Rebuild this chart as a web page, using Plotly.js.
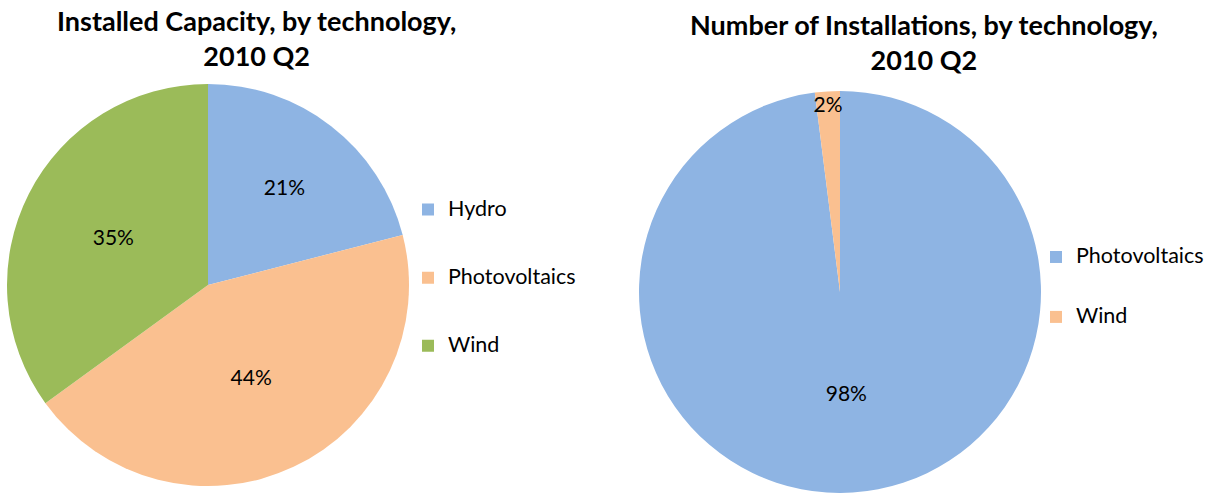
<!DOCTYPE html>
<html>
<head>
<meta charset="utf-8">
<script src="https://cdn.plot.ly/plotly-3.0.1.min.js"></script>
<style>html,body{margin:0;padding:0;background:#fff;}#chart{width:1211px;height:493px;}</style>
</head>
<body>
<div id="chart"></div>
<script>
// Data
const capacityLabels = ["Hydro", "Photovoltaics", "Wind"];
const capacityValues = [21, 44, 35];
const capacityColors = ["#8EB4E3", "#FAC090", "#9BBB59"];

const installLabels = ["Photovoltaics", "Wind"];
const installValues = [98, 2];
const installColors = ["#8EB4E3", "#FAC090"];

const leftTitle = "Installed Capacity, by technology,<br>2010 Q2";
const rightTitle = "Number of Installations, by technology,<br>2010 Q2";

const FONT = "Lato, 'Open Sans', sans-serif";
const W = 1211, H = 493;

// pad legend labels (blank lines) so items are spaced like the original;
// the tag keeps the two pies' legend entries separate
const pad = tag => l => "<br><span style=\"font-size:21.5px\">" + l + "</span><br>" + tag;

const traces = [
  {
    type: "pie",
    labels: capacityLabels.map(pad(" ")),
    values: capacityValues,
    marker: {colors: capacityColors, line: {width: 0}},
    sort: false,
    direction: "clockwise",
    rotation: 0,
    texttemplate: "%{percent:.0%}",
    textposition: "inside",
    insidetextorientation: "horizontal",
    textfont: {family: FONT, size: 21, color: "#000"},
    hoverinfo: "skip",
    domain: {x: [7 / W, 409 / W], y: [1 - 486 / H, 1 - 84 / H]},
    legend: "legend"
  },
  {
    type: "pie",
    labels: installLabels.map(pad("  ")),
    values: installValues,
    marker: {colors: installColors, line: {width: 0}},
    sort: false,
    direction: "clockwise",
    rotation: 0,
    texttemplate: "%{percent:.0%}",
    textposition: "inside",
    insidetextorientation: "horizontal",
    textfont: {family: FONT, size: 21, color: "#000"},
    hoverinfo: "skip",
    domain: {x: [639 / W, 1041 / W], y: [0, 1 - 91 / H]},
    legend: "legend2"
  }
];

const legendBase = {
  bgcolor: "rgba(0,0,0,0)",
  xanchor: "left",
  yanchor: "middle",
  itemwidth: 30,
  valign: "middle"
};

const layout = {
  width: W,
  height: H,
  margin: {l: 0, r: 0, t: 0, b: 0, autoexpand: false},
  paper_bgcolor: "#fff",
  showlegend: true,
  font: {family: FONT},
  uniformtext: {minsize: 21, mode: "show"},
  legend: Object.assign({}, legendBase, {x: 408 / W, y: 1 - 278 / H,
    font: {family: FONT, size: 16.7, color: "#000"}}),
  legend2: Object.assign({}, legendBase, {x: 1036 / W, y: 1 - 287 / H,
    font: {family: FONT, size: 14.6, color: "#000"}}),
  annotations: [
    {text: "<b>" + leftTitle + "</b>", x: 256 / W, y: 1 - 38 / H, xref: "paper", yref: "paper",
     showarrow: false, font: {family: FONT, size: 27, color: "#000"}, xanchor: "center", yanchor: "middle"},
    {text: "<b>" + rightTitle + "</b>", x: 924 / W, y: 1 - 42 / H, xref: "paper", yref: "paper",
     showarrow: false, font: {family: FONT, size: 27, color: "#000"}, xanchor: "center", yanchor: "middle"}
  ]
};

Plotly.newPlot("chart", traces, layout, {displayModeBar: false, staticPlot: true});
</script>
</body>
</html>
